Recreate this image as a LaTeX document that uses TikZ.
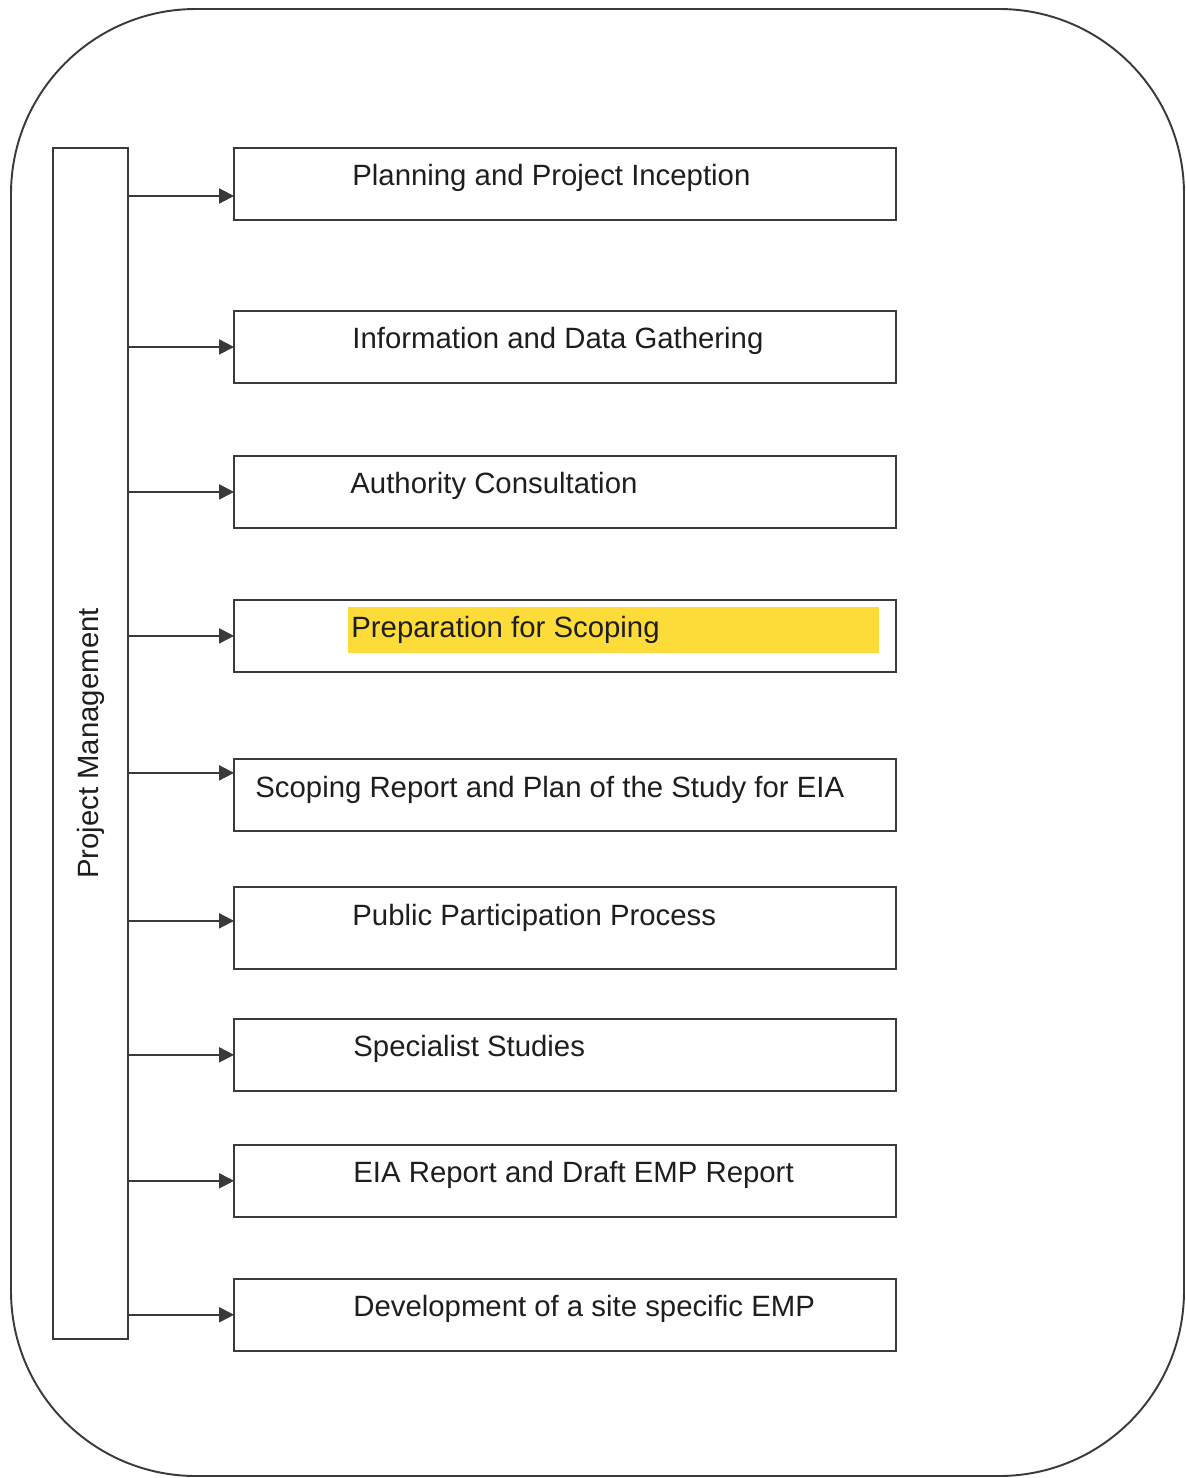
\documentclass[tikz,border=0pt]{standalone}
\usepackage{fontspec}
\setmainfont{Liberation Sans}
\usetikzlibrary{arrows.meta,positioning}
\definecolor{inkgray}{HTML}{3A3A3A}
\definecolor{textgray}{HTML}{1E1E1E}
\definecolor{scopeyellow}{HTML}{FDDC3A}

\begin{document}
\begin{tikzpicture}[
    x=0.02cm, y=-0.02cm,
    stage/.style={rectangle, draw=inkgray, line width=1.3pt, outer sep=0pt, minimum width=13.24cm, minimum height=1.44cm},
    pmbox/.style={rectangle, draw=inkgray, line width=1.3pt, outer sep=0pt, minimum width=1.5cm, minimum height=23.82cm},
    caption/.style={inner sep=0pt, text=textgray, text height=0.72em, text depth=0.21em, font=\fontsize{16.7}{20}\selectfont},
    hilite/.style={rectangle, fill=scopeyellow, inner sep=0pt, minimum width=10.62cm, minimum height=0.92cm},
    arrow/.style={-{Triangle[length=0.3cm, width=0.3cm]}, line width=1.1pt, draw=inkgray}
]
    \useasboundingbox (0,0) rectangle (1186,1478);
    % outer frame
    \draw[inkgray, line width=1.1pt, rounded corners=3.7cm] (11,9) rectangle (1184,1476);

    \node[pmbox] (pm) at (90.5,743.5) {};
    \node[caption, rotate=90] (pmtxt) at ([xshift=0.08cm]pm.center) {Project Management};

    \node[stage] (plan) at (565,184) {};
    \node[stage, below=1.82cm of plan] (info) {};
    \node[stage, below=1.46cm of info] (auth) {};
    \node[stage, below=1.44cm of auth] (prep) {};
    \node[stage, below=1.74cm of prep] (scoping) {};
    \node[stage, below=1.12cm of scoping, minimum height=1.64cm] (public) {};
    \node[stage, below=1.00cm of public] (special) {};
    \node[stage, below=1.08cm of special] (eiarep) {};
    \node[stage, below=1.24cm of eiarep] (siteemp) {};

    \node[hilite, right=2.28cm of prep.west, yshift=0.12cm] (prepmark) {};

    \node[caption, right=2.36cm of plan.west, anchor=base west, yshift=-0.02cm] (plantxt) {Planning and Project Inception};
    \node[caption, right=2.36cm of info.west, anchor=base west, yshift=-0.04cm] (infotxt) {Information and Data Gathering};
    \node[caption, right=2.32cm of auth.west, anchor=base west, yshift=-0.04cm] (authtxt) {Authority Consultation};
    \node[caption, right=2.34cm of prep.west, anchor=base west, yshift=-0.03cm] (preptxt) {Preparation for Scoping};
    \node[caption, right=0.42cm of scoping.west, anchor=base west, yshift=-0.06cm] (scopingtxt) {Scoping Report and Plan of the Study for EIA};
    \node[caption, right=2.36cm of public.west, anchor=base west, yshift=0.04cm] (publictxt) {Public Participation Process};
    \node[caption, right=2.38cm of special.west, anchor=base west, yshift=-0.04cm] (specialtxt) {Specialist Studies};
    \node[caption, right=2.38cm of eiarep.west, anchor=base west, yshift=-0.04cm] (eiareptxt) {EIA Report and Draft EMP Report};
    \node[caption, right=2.38cm of siteemp.west, anchor=base west, yshift=-0.04cm] (siteemptxt) {Development of a site specific EMP};

    % arrow ends on the stage boxes
    \coordinate (planin) at ([yshift=-0.24cm]plan.west);
    \coordinate (scopingin) at ([yshift=0.44cm]scoping.west);
    \coordinate (publicin) at ([yshift=0.14cm]public.west);

    \draw[arrow] (pm.east |- planin) -- (planin);
    \draw[arrow] (pm.east |- info.west) -- (info.west);
    \draw[arrow] (pm.east |- auth.west) -- (auth.west);
    \draw[arrow] (pm.east |- prep.west) -- (prep.west);
    \draw[arrow] (pm.east |- scopingin) -- (scopingin);
    \draw[arrow] (pm.east |- publicin) -- (publicin);
    \draw[arrow] (pm.east |- special.west) -- (special.west);
    \draw[arrow] (pm.east |- eiarep.west) -- (eiarep.west);
    \draw[arrow] (pm.east |- siteemp.west) -- (siteemp.west);
\end{tikzpicture}
\end{document}
